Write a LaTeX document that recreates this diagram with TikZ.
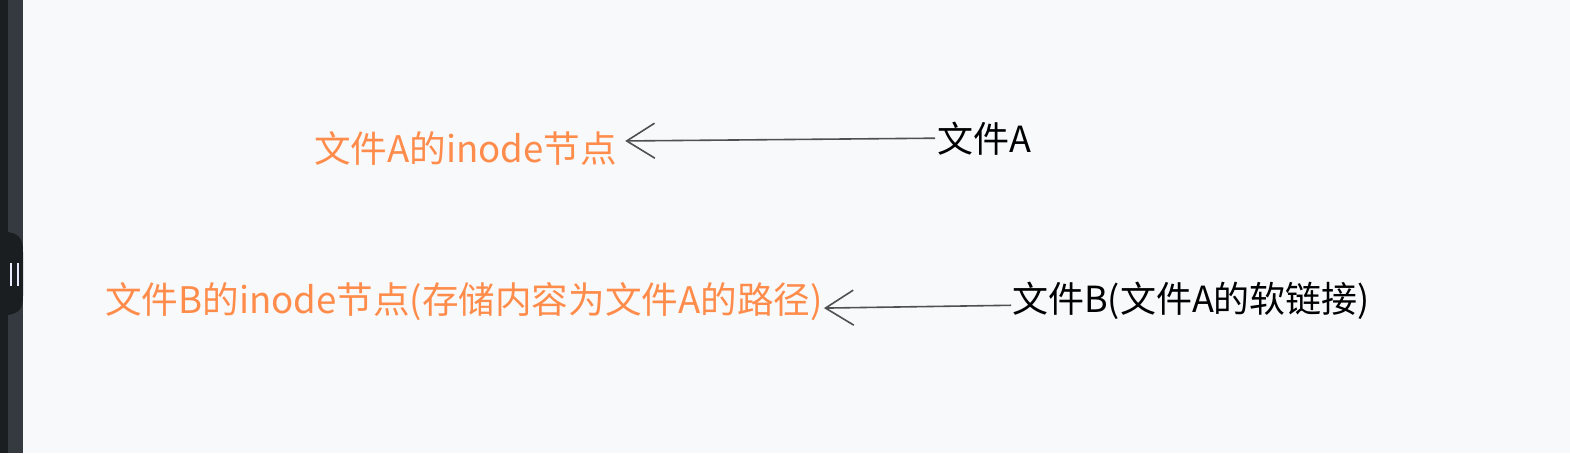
\documentclass[tikz,border=0pt]{standalone}
\usepackage{fontspec}
\newfontfamily\cjk{Noto Sans CJK SC}
\usetikzlibrary{arrows.meta, positioning, calc}

\definecolor{pagebg}{HTML}{F8F9FA}
\definecolor{barDark}{HTML}{1B1E21}
\definecolor{barMid}{HTML}{343A40}
\definecolor{inodeOrange}{HTML}{FF8C4B}
\definecolor{linkGray}{HTML}{505050}

\tikzset{
  inode/.style={inner sep=0pt, anchor=base west, text=inodeOrange, font=\cjk\fontsize{36.6}{40}\selectfont},
  file/.style={inner sep=0pt, anchor=base west, text=black, font=\cjk\fontsize{36}{40}\selectfont},
  pointer/.style={draw=linkGray, line width=1.6pt,
    -{Straight Barb[length=28pt, width=35pt, line width=1.6pt]}}
}

\begin{document}
\begin{tikzpicture}[x=1pt, y=-1pt]
		% page and side bar
		\fill[pagebg] (0,0) rectangle (1570,453);
		\useasboundingbox (0,0) rectangle (1570,453);
		\fill[barDark] (0,0) rectangle (8,453);
		\fill[barMid] (8,0) rectangle (23,453);
		\fill[barDark] (8,232) .. controls (20,234) and (23,240) .. (23,252)
			-- (23,296) .. controls (23,308) and (20,313) .. (8,315) -- cycle;
		\fill[white!92!blue] (10,263) rectangle (12,286);
		\fill[white!92!blue] (17,263) rectangle (19,286);

		% files and inodes
		\node[inode] (inodeA) at (314,162) {文件A的inode节点};
		\node[file] (fileA) at (937,152) {文件A};
		\node[inode] (inodeB) at (105,313) {文件B的inode节点(存储内容为文件A的路径)};
		\node[file] (fileB) at (1012,312) {文件B(文件A的软链接)};

		% links
		\draw[pointer] ([xshift=-2pt]fileA.west) -- ([xshift=8pt, yshift=7pt]inodeA.east);
		\draw[pointer] ([xshift=-1pt, yshift=-5pt]fileB.west) -- ([xshift=1pt, yshift=-7pt]inodeB.east);
\end{tikzpicture}
\end{document}
